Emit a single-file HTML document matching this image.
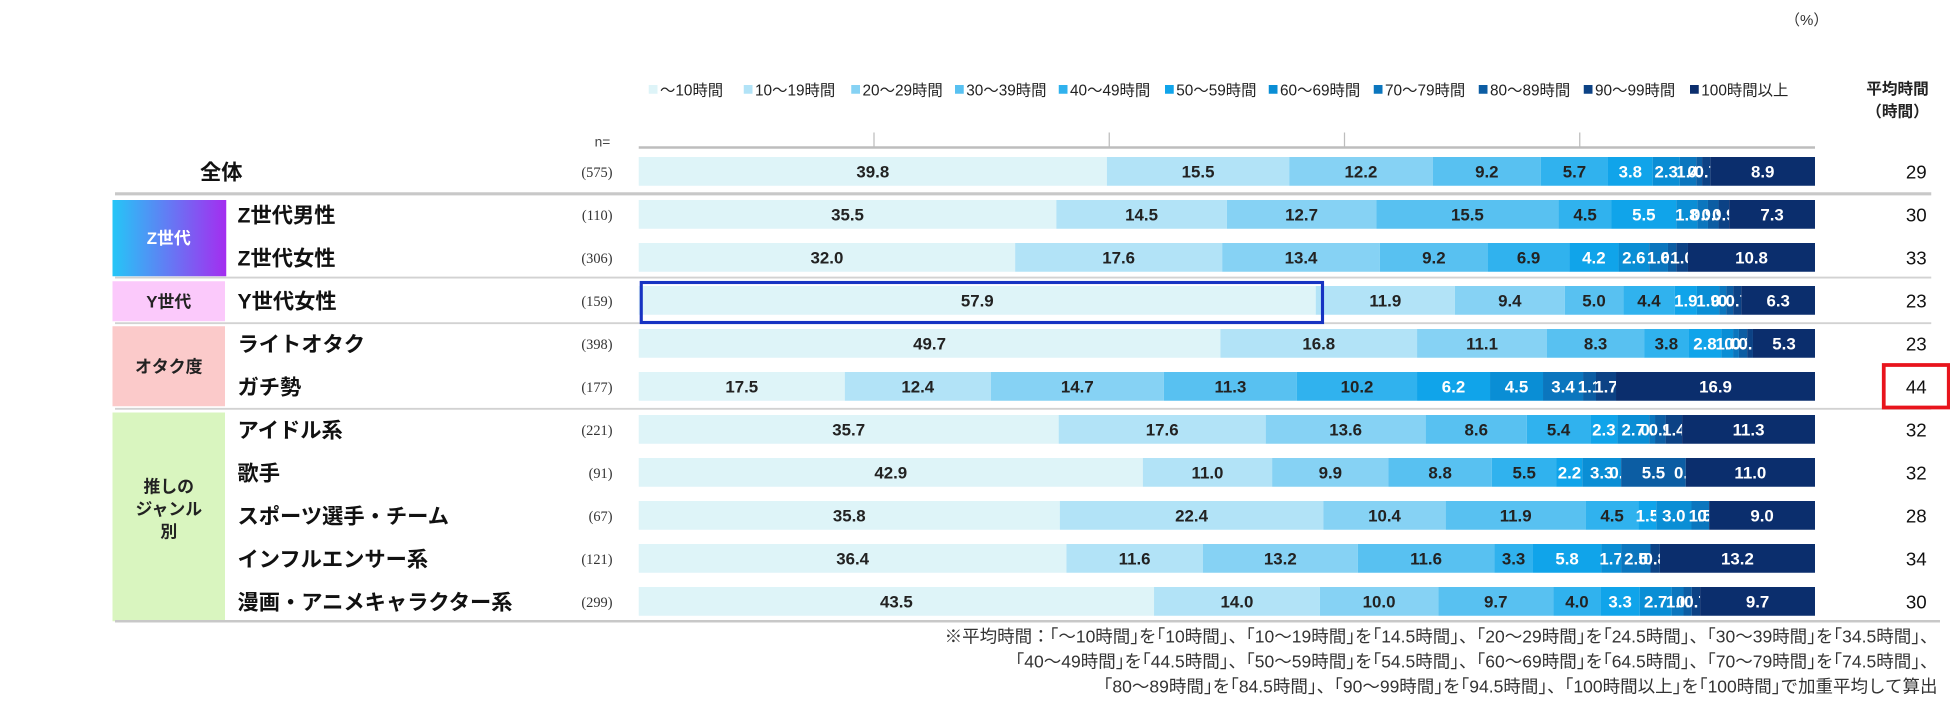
<!DOCTYPE html>
<html><head><meta charset="utf-8">
<style>
html,body{margin:0;padding:0;background:#fff;}
svg{display:block;font-family:"Liberation Sans","Noto Sans CJK JP",sans-serif;}
</style></head>
<body>
<svg id="chart" width="1950" height="722" viewBox="0 0 1560 577.6" xmlns="http://www.w3.org/2000/svg">
<text x="1428" y="20" font-size="12" fill="#333">（%）</text>
<g id="legend"></g>
<text x="1518" y="75" font-size="12.5" font-weight="bold" text-anchor="middle" fill="#222">平均時間</text>
<text x="1518" y="93" font-size="12.5" font-weight="bold" text-anchor="middle" fill="#222">（時間）</text>
<text x="482" y="117" font-size="11" text-anchor="middle" fill="#444">n=</text>
<line x1="511" y1="118" x2="1452" y2="118" stroke="#bdbdbd" stroke-width="2"/>
<g id="ticks"></g>
<defs><linearGradient id="zg" x1="0" x2="1"><stop offset="0" stop-color="#25c6f7"/><stop offset="1" stop-color="#a42df0"/></linearGradient></defs>
<rect x="90" y="160" width="91" height="61" fill="url(#zg)"/>
<text x="135" y="195" font-size="13.5" font-weight="bold" fill="#fff" text-anchor="middle">Z世代</text>
<rect x="90" y="225" width="90" height="32" fill="#fbc9fb"/>
<text x="135" y="246" font-size="13.5" font-weight="bold" fill="#222" text-anchor="middle">Y世代</text>
<rect x="90" y="261" width="90" height="64" fill="#fbcaca"/>
<text x="135" y="298" font-size="13.5" font-weight="bold" fill="#222" text-anchor="middle">オタク度</text>
<rect x="90" y="330" width="90" height="167" fill="#d9f5bf"/>
<text x="135" y="394" font-size="13.5" font-weight="bold" fill="#222" text-anchor="middle"><tspan x="135">推しの</tspan><tspan x="135" dy="18">ジャンル</tspan><tspan x="135" dy="18">別</tspan></text>
<line x1="92" y1="155" x2="1545" y2="155" stroke="#c8c8c8" stroke-width="2.5"/>
<line x1="92" y1="222" x2="1545" y2="222" stroke="#d2d2d2" stroke-width="1.5"/>
<line x1="92" y1="258.5" x2="1545" y2="258.5" stroke="#d2d2d2" stroke-width="1.5"/>
<line x1="92" y1="327" x2="1545" y2="327" stroke="#d2d2d2" stroke-width="1.5"/>
<line x1="92" y1="497" x2="1552" y2="497" stroke="#c8c8c8" stroke-width="2"/>
<g id="rows"></g>
<rect x="513" y="226" width="545" height="32" fill="none" stroke="#1733c2" stroke-width="2.5"/>
<rect x="1507" y="292" width="52" height="34" fill="none" stroke="#e8141c" stroke-width="3"/>
<g font-size="14" fill="#333" text-anchor="end">
<text x="1550" y="514">※平均時間：｢～10時間｣を｢10時間｣、｢10～19時間｣を｢14.5時間｣、｢20～29時間｣を｢24.5時間｣、｢30～39時間｣を｢34.5時間｣、</text>
<text x="1550" y="534">｢40～49時間｣を｢44.5時間｣、｢50～59時間｣を｢54.5時間｣、｢60～69時間｣を｢64.5時間｣、｢70～79時間｣を｢74.5時間｣、</text>
<text x="1550" y="554">｢80～89時間｣を｢84.5時間｣、｢90～99時間｣を｢94.5時間｣、｢100時間以上｣を｢100時間｣で加重平均して算出</text>
</g>
</svg>
<script>
const seriesNames = ["～10時間","10～19時間","20～29時間","30～39時間","40～49時間","50～59時間","60～69時間","70～79時間","80～89時間","90～99時間","100時間以上"];
const categories = ["全体","Z世代男性","Z世代女性","Y世代女性","ライトオタク","ガチ勢","アイドル系","歌手","スポーツ選手・チーム","インフルエンサー系","漫画・アニメキャラクター系"];
const nValues = [575,110,306,159,398,177,221,91,67,121,299];
const averages = [29,30,33,23,23,44,32,32,28,34,30];
const row0 = [39.8,15.5,12.2,9.2,5.7,3.8,2.3,1.4,0.5,0.7,8.9];
const row1 = [35.5,14.5,12.7,15.5,4.5,5.5,1.8,0.9,0.9,0.9,7.3];
const row2 = [32.0,17.6,13.4,9.2,6.9,4.2,2.6,1.6,0.7,1.0,10.8];
const row3 = [57.9,11.9,9.4,5.0,4.4,1.9,1.9,0.6,0.6,0.7,6.3];
const row4 = [49.7,16.8,11.1,8.3,3.8,2.8,1.0,0.5,0.7,0.5,5.3];
const row5 = [17.5,12.4,14.7,11.3,10.2,6.2,4.5,3.4,1.1,1.7,16.9];
const row6 = [35.7,17.6,13.6,8.6,5.4,2.3,2.7,0.5,0.9,1.4,11.3];
const row7 = [42.9,11.0,9.9,8.8,5.5,2.2,3.3,0.0,5.5,0.0,11.0];
const row8 = [35.8,22.4,10.4,11.9,4.5,1.5,3.0,1.5,0.0,0.0,9.0];
const row9 = [36.4,11.6,13.2,11.6,3.3,5.8,1.7,2.5,0.0,0.8,13.2];
const row10 = [43.5,14.0,10.0,9.7,4.0,3.3,2.7,1.0,0.7,0.7,9.7];
const tickValues = [20,40,60,80];
const rowsData = [row0,row1,row2,row3,row4,row5,row6,row7,row8,row9,row10];
const colors = ["#def4f8","#b2e3f7","#86d2f4","#58c1f1","#30b2ee","#10a4ea","#0a8ed5","#0b76be","#0c5da3","#0c4285","#0b2e6d"];
const NS="http://www.w3.org/2000/svg";
const X0=511, X1=1452;
function xScale(p){return X0+(X1-X0)*p/100;}
function rowTop(i){return 125.6+34.4*i;}
const BH=23;
function mk(tag,attrs,parent){const e=document.createElementNS(NS,tag);for(const k in attrs)e.setAttribute(k,attrs[k]);parent.appendChild(e);return e;}
const ticks=document.getElementById('ticks');
tickValues.forEach(t=>{
  const l=mk('line',{x1:xScale(t),x2:xScale(t),y1:106,y2:118,stroke:'#bdbdbd','stroke-width':1},ticks);
  
  
});
const legend=document.getElementById('legend');
const legX=[519,595,681,764,847,932,1015,1099,1183,1267,1352];
seriesNames.forEach((s,k)=>{
  const r=mk('rect',{x:legX[k],y:68,width:7,height:7,fill:colors[k]},legend);
  
  
  const t=mk('text',{x:legX[k]+9,y:76.5,'font-size':12.3,fill:'#222'},legend);
  t.textContent=s;
  
  
});
const rows=document.getElementById('rows');
rowsData.forEach((vals,i)=>{
  const y=rowTop(i), cy=y+BH/2;
  const total=vals.reduce((a,b)=>a+b,0);
  const lab=mk('text',{x:i===0?160:190,y:cy+6.5,'font-size':17,'font-weight':'bold',fill:'#111'},rows);
  lab.textContent=categories[i];
  
  
  const n=mk('text',{x:490,y:cy+4.5,'font-size':11.5,fill:'#333','text-anchor':'end','font-family':'Liberation Serif, serif'},rows);
  n.textContent='('+nValues[i]+')';
  
  
  let acc=0;
  vals.forEach((v,k)=>{
    const xa=xScale(acc/total*100), xb=xScale((acc+v)/total*100);
    const r=mk('rect',{x:xa,y:y,width:Math.max(0,xb-xa),height:BH,fill:colors[k]},rows);
    
    
    const t=mk('text',{x:(xa+xb)/2,y:cy+5,'font-size':13.5,'font-weight':'bold','text-anchor':'middle',fill:k<5?'#222':'#fff'},rows);
    t.textContent=v.toFixed(1);
    
    
    acc+=v;
  });
  const a=mk('text',{x:1533,y:cy+5.5,'font-size':15,'text-anchor':'middle',fill:'#111'},rows);
  a.textContent=averages[i];
  
  
});
</script>
</body></html>
